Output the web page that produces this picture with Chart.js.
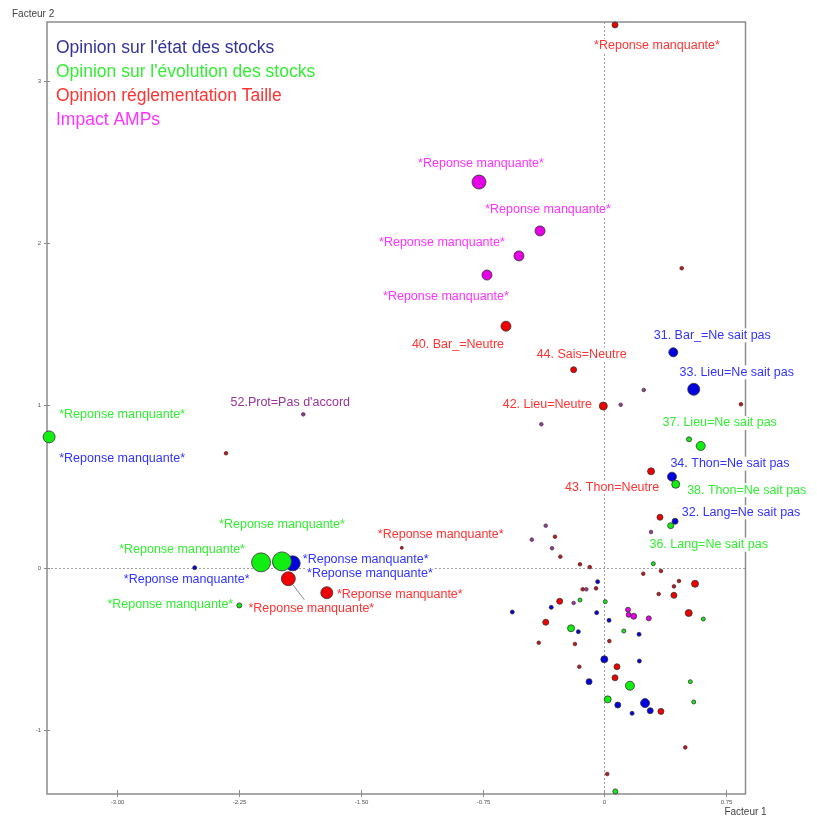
<!DOCTYPE html>
<html>
<head>
<meta charset="utf-8">
<script src="https://cdn.jsdelivr.net/npm/chart.js@4.4.0/dist/chart.umd.min.js"></script>
<style>
  body { margin: 0; background: #fff; }
  canvas { display: block; }
</style>
</head>
<body>
<canvas id="afc" width="817" height="816"></canvas>
<script>
// Plan factoriel (Facteur 1 x Facteur 2)

const RM = '*Reponse manquante*';

const legendTitles = ["Opinion sur l'état des stocks", "Opinion sur l'évolution des stocks",
                      "Opinion réglementation Taille", "Impact AMPs"];

const xTicks = [-3.00, -2.25, -1.50, -0.75, 0, 0.75];
const xTickLabels = ['-3.00', '-2.25', '-1.50', '-0.75', '0', '0.75'];
const yTicks = [-1, 0, 1, 2, 3];
const yTickLabels = ['-1', '0', '1', '2', '3'];

// Opinion sur l'état des stocks
const etatPoints = [[0.425, 1.327], [0.551, 1.099], [0.417, 0.561], [0.436, 0.286], [-1.920, 0.027],
  [-2.005, 0.029], [-2.524, 0.0], [-3.421, 0.806],
  [-0.041, -0.086], [-0.327, -0.244], [-0.567, -0.273], [-0.047, -0.277], [0.029, -0.324],
  [-0.160, -0.394], [0.214, -0.410], [0.216, -0.575], [0.171, -0.897],
  [0.0, -0.564], [-0.094, -0.702], [0.083, -0.846], [0.251, -0.834], [0.283, -0.881]];
const etatSizes = [4.5, 6, 4.5, 3, 7.5, 6, 2, 5, 2, 2, 2, 2, 2, 2, 2, 2, 2, 3.5, 3, 3, 4.5, 3];
const etatLabels = ['31. Bar_=Ne sait pas', '33. Lieu=Ne sait pas', '34. Thon=Ne sait pas',
  '32. Lang=Ne sait pas', RM, RM, RM, RM];

// Opinion sur l'évolution des stocks
const evolPoints = [[-3.421, 0.806], [-2.115, 0.033], [-1.986, 0.039], [-2.249, -0.232],
  [0.594, 0.750], [0.440, 0.514], [0.409, 0.259],
  [0.522, 0.791], [0.302, 0.025], [-0.150, -0.199], [0.006, -0.209], [0.610, -0.316],
  [-0.205, -0.373], [0.120, -0.390], [0.158, -0.727], [0.530, -0.702], [0.021, -0.811],
  [0.551, -0.827], [0.068, -1.378]];
const evolSizes = [6, 9.5, 9.5, 2.5, 4.5, 4, 3, 2.5, 2, 2, 2, 2, 3.5, 2, 4.5, 2, 3.5, 2, 2.5];
const evolLabels = [RM, RM, RM, RM, '37. Lieu=Ne sait pas', '38. Thon=Ne sait pas', '36. Lang=Ne sait pas'];

// Opinion réglementation Taille
const taillePoints = [[-0.606, 1.488], [-0.189, 1.220], [-0.006, 0.996], [0.288, 0.594],
  [0.066, 3.344], [-1.947, -0.068], [-1.710, -0.154], [-1.248, 0.123],
  [0.343, 0.311], [0.559, -0.099], [0.429, -0.170], [-0.275, -0.207], [0.520, -0.279],
  [-0.361, -0.336], [0.078, -0.610], [0.066, -0.678], [0.349, -0.885]];
const tailleSizes = [5, 3, 4, 3.5, 3, 7, 6, 1.5, 3, 3.5, 3, 3, 3.5, 3, 3, 3, 3];
const tailleLabels = ['40. Bar_=Neutre', '44. Sais=Neutre', '42. Lieu=Neutre', '43. Thon=Neutre',
  RM, RM, RM, RM];

// Impact AMPs
const ampPoints = [[-0.772, 2.376], [-0.396, 2.075], [-0.526, 1.921], [-0.723, 1.803],
  [0.146, -0.259], [0.150, -0.290], [0.181, -0.299], [0.274, -0.312]];
const ampSizes = [7, 5, 5, 5, 2.5, 2.5, 3, 2.5];
const ampLabels = [RM, RM, RM, RM];

// autres modalités (petits points)
const autresRougePoints = [[0.477, 1.845], [0.842, 1.007], [-2.331, 0.705], [-0.304, 0.191],
  [-0.271, 0.068], [-0.150, 0.021], [-0.090, 0.004], [0.240, -0.037], [0.349, -0.020],
  [0.460, -0.082], [-0.133, -0.133], [-0.051, -0.127], [0.429, -0.115], [0.335, -0.162],
  [-0.404, -0.462], [-0.181, -0.470], [0.031, -0.452], [-0.154, -0.610], [0.499, -1.107],
  [0.018, -1.271]];
const autresVioletPoints = [[-1.855, 0.945], [0.243, 1.095], [0.101, 1.004], [-0.388, 0.884],
  [-0.361, 0.259], [-0.447, 0.173], [-0.322, 0.120], [0.288, 0.220], [-0.111, -0.133],
  [-0.189, -0.217]];
const autresVioletLabels = ["52.Prot=Pas d'accord"];

// label placement (pixels from the point)
const etatOffsets = [[39, -17], [43, -17], [58, -13], [66, -9], [73, -4], [91, 11], [-8, 12], [73, 22]];
const evolOffsets = [[73, -22], [-79, -13], [0, -37], [-69, -1], [19, -23], [71, 6], [38, 19]];
const tailleOffsets = [[-48, 18], [8, -15], [-56, -2], [-39, 16], [42, 21], [23, 30], [73, 2], [39, -13]];
const ampOffsets = [[2, -19], [8, -21], [-77, -13], [-41, 21]];
const autresVioletOffsets = [[-13, -12]];
const tailleLeaders = { 5: [16, 21] };

function bubbles(points, sizes) {
  return points.map((p, i) => ({ x: p[0], y: p[1], r: Array.isArray(sizes) ? sizes[i] : sizes }));
}

const annotations = {
  id: 'annotations',
  beforeDatasetsDraw(chart) {
    const { ctx, chartArea: a, scales: { x, y } } = chart;
    ctx.save();

    // axes at zero
    ctx.strokeStyle = '#a0a0a0';
    ctx.lineWidth = 1;
    ctx.setLineDash([2, 2]);
    const px0 = Math.round(x.getPixelForValue(0)) + 0.5;
    const py0 = Math.round(y.getPixelForValue(0)) + 0.5;
    ctx.beginPath();
    ctx.moveTo(px0, a.top); ctx.lineTo(px0, a.bottom);
    ctx.moveTo(a.left, py0); ctx.lineTo(a.right, py0);
    ctx.stroke();
    ctx.setLineDash([]);

    // frame
    ctx.strokeStyle = '#8c8c8c';
    ctx.lineWidth = 1.5;
    ctx.strokeRect(a.left, a.top, a.right - a.left, a.bottom - a.top);

    // ticks
    ctx.fillStyle = '#555';
    ctx.font = '6px "Liberation Sans", Arial, sans-serif';
    ctx.lineWidth = 1;
    ctx.textAlign = 'center';
    ctx.textBaseline = 'middle';
    xTicks.forEach((v, i) => {
      const px = Math.round(x.getPixelForValue(v)) + 0.5;
      ctx.beginPath(); ctx.moveTo(px, a.bottom - 4); ctx.lineTo(px, a.bottom + 3); ctx.stroke();
      ctx.fillText(xTickLabels[i], px, a.bottom + 8);
    });
    ctx.textAlign = 'right';
    yTicks.forEach((v, i) => {
      const py = Math.round(y.getPixelForValue(v)) + 0.5;
      ctx.beginPath(); ctx.moveTo(a.left - 3, py); ctx.lineTo(a.left + 3, py); ctx.stroke();
      ctx.fillText(yTickLabels[i], a.left - 6, py);
    });

    // axis titles
    ctx.fillStyle = '#444';
    ctx.font = '10px "Liberation Sans", Arial, sans-serif';
    ctx.textAlign = 'left';
    ctx.fillText('Facteur 2', 12, 14);
    ctx.textAlign = 'center';
    ctx.fillText('Facteur 1', a.right, 812);

    // legend
    const legendColors = ['#333399', '#33ee33', '#ff3333', '#ff33ff'];
    ctx.font = '17.5px "Liberation Sans", Arial, sans-serif';
    ctx.textAlign = 'left';
    legendTitles.forEach((t, i) => {
      ctx.fillStyle = legendColors[i];
      ctx.fillText(t, 56, 48 + i * 24);
    });

    // point labels
    ctx.font = '12.5px "Liberation Sans", Arial, sans-serif';
    ctx.textAlign = 'center';
    chart.data.datasets.forEach((ds, di) => {
      if (!ds.pointLabels) return;
      const meta = chart.getDatasetMeta(di);
      ds.pointLabels.forEach((txt, i) => {
        const el = meta.data[i];
        const off = ds.labelOffsets[i];
        const lx = el.x + off[0], ly = el.y + off[1];
        const w = ctx.measureText(txt).width;
        ctx.fillStyle = '#fff';
        ctx.fillRect(lx - w / 2 - 1, ly - 7, w + 2, 14);
        ctx.fillStyle = ds.labelColor;
        ctx.fillText(txt, lx, ly);
        const lead = ds.leaders && ds.leaders[i];
        if (lead) {
          const r = ds.data[i].r;
          const ang = Math.atan2(lead[1], lead[0]);
          ctx.strokeStyle = '#888';
          ctx.lineWidth = 1;
          ctx.beginPath();
          ctx.moveTo(el.x + Math.cos(ang) * r, el.y + Math.sin(ang) * r);
          ctx.lineTo(el.x + lead[0], el.y + lead[1]);
          ctx.stroke();
        }
      });
    });
    ctx.restore();
  }
};

const ctx = document.getElementById('afc').getContext('2d');
new Chart(ctx, {
  type: 'bubble',
  data: {
    datasets: [
      {
        label: legendTitles[3], data: bubbles(ampPoints, ampSizes), order: 1,
        backgroundColor: '#e600e6', pointLabels: ampLabels, labelOffsets: ampOffsets, labelColor: '#ff33ff'
      },
      {
        label: legendTitles[2], data: bubbles(taillePoints, tailleSizes), order: 2,
        backgroundColor: '#f00000', pointLabels: tailleLabels, labelOffsets: tailleOffsets,
        labelColor: '#ff3333', leaders: tailleLeaders
      },
      {
        label: legendTitles[1], data: bubbles(evolPoints, evolSizes), order: 3,
        backgroundColor: '#11ee11', pointLabels: evolLabels, labelOffsets: evolOffsets, labelColor: '#33ee33'
      },
      {
        label: legendTitles[0], data: bubbles(etatPoints, etatSizes), order: 4,
        backgroundColor: '#0000e0', pointLabels: etatLabels, labelOffsets: etatOffsets, labelColor: '#3333ff'
      },
      {
        label: 'Autres', data: bubbles(autresRougePoints, 1.8), order: 5,
        backgroundColor: '#b02020', borderColor: '#602020'
      },
      {
        label: 'Autres (AMPs)', data: bubbles(autresVioletPoints, 1.8), order: 6,
        backgroundColor: '#904090', borderColor: '#503050',
        pointLabels: autresVioletLabels, labelOffsets: autresVioletOffsets, labelColor: '#993399'
      }
    ]
  },
  options: {
    responsive: false,
    animation: false,
    devicePixelRatio: 1,
    clip: false,
    layout: { padding: { left: 47, right: 71.5, top: 22, bottom: 22 } },
    elements: { point: { borderWidth: 0.8, borderColor: '#333', hoverRadius: 0 } },
    scales: {
      x: { type: 'linear', display: false, min: -3.434, max: 0.870 },
      y: { type: 'linear', display: false, min: -1.394, max: 3.362 }
    },
    plugins: { legend: { display: false }, tooltip: { enabled: false } }
  },
  plugins: [annotations]
});
</script>
</body>
</html>
